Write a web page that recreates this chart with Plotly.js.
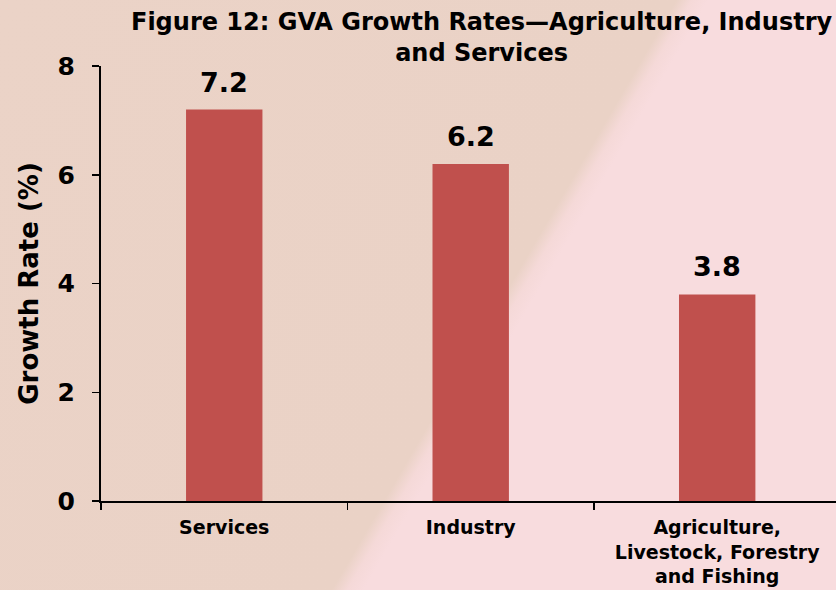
<!DOCTYPE html>
<html>
<head>
<meta charset="utf-8">
<script src="https://cdn.plot.ly/plotly-3.0.1.min.js"></script>
<style>
html,body{margin:0;padding:0;}
#wrap{width:836px;height:590px;position:relative;overflow:hidden;
  background:linear-gradient(120.3deg,#EBD3C7 0%,#EAD2C6 57.3%,#F5D9D8 58.6%,#F8DCDE 60%,#F8DCDE 100%);}
#chart{width:836px;height:590px;}
</style>
</head>
<body>
<div id="wrap"><div id="chart"></div></div>
<script>
var categories = ["Services", "Industry", "Agriculture,<br>Livestock, Forestry<br>and Fishing"];
var growthRates = [7.2, 6.2, 3.8];
var labels = ["7.2", "6.2", "3.8"];
var yTicks = [0, 2, 4, 6, 8];
var chartTitle = "Figure 12: GVA Growth Rates—Agriculture, Industry<br>and Services";
var yTitle = "Growth Rate (%)";

var barColor = "#C0504D";
var fontMain = "'DejaVu Sans', Verdana, sans-serif";

var trace = {
  type: "bar",
  x: categories,
  y: growthRates,
  marker: {color: barColor, line: {width: 0}},
  hoverinfo: "none"
};

var annotations = categories.map(function(c, i){
  return {
    x: c, y: growthRates[i], xref: "x", yref: "y",
    text: "<b>" + labels[i] + "</b>",
    showarrow: false, yanchor: "bottom", yshift: 10,
    font: {family: fontMain, size: 27, color: "#000"}
  };
});
annotations.push({
  text: "<b>" + chartTitle + "</b>",
  xref: "paper", yref: "paper", x: 0.518, y: 1.137,
  xanchor: "center", yanchor: "top", showarrow: false,
  font: {family: fontMain, size: 24, color: "#000"}
});

var layout = {
  width: 836, height: 590,
  margin: {l: 101, r: 0, t: 66, b: 89},
  paper_bgcolor: "rgba(0,0,0,0)",
  plot_bgcolor: "rgba(0,0,0,0)",
  showlegend: false,
  bargap: 0.69,
  xaxis: {
    type: "category",
    range: [-0.5, 2.482],
    showline: true, linecolor: "#000", linewidth: 2,
    ticks: "outside", ticklen: 7, tickcolor: "#000", tickwidth: 1.5,
    tickson: "boundaries",
    ticklabelstandoff: 8,
    showgrid: false, zeroline: false,
    tickfont: {family: fontMain, size: 19, color: "#000", weight: "bold"},
    fixedrange: true
  },
  yaxis: {
    range: [0, 8],
    tickvals: yTicks,
    ticktext: yTicks.map(String),
    showline: true, linecolor: "#000", linewidth: 2,
    ticks: "outside", ticklen: 7, tickcolor: "#000", tickwidth: 1.5,
    showgrid: false, zeroline: false,
    ticklabelstandoff: 12,
    tickfont: {family: fontMain, size: 25, color: "#000", weight: "bold"},
    title: {text: "<b>" + yTitle + "</b>", standoff: 11,
      font: {family: fontMain, size: 26, color: "#000"}},
    fixedrange: true
  },
  annotations: annotations
};

Plotly.newPlot("chart", [trace], layout, {displayModeBar: false, staticPlot: true});
</script>
</body>
</html>
